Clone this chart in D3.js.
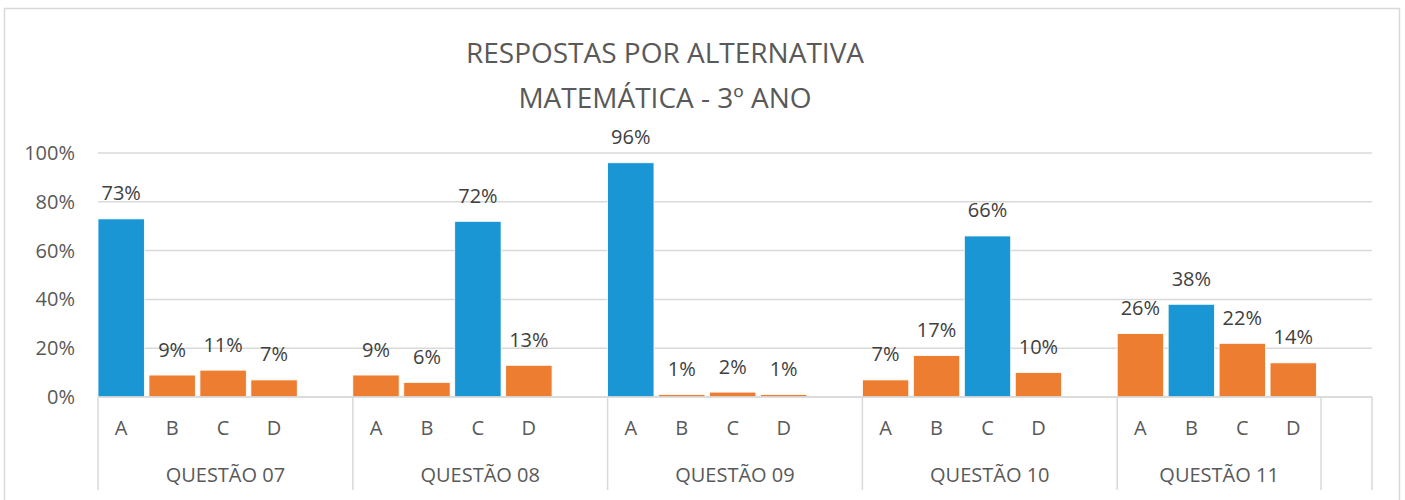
<!DOCTYPE html>
<html>
<head>
<meta charset="utf-8">
<script src="https://cdn.jsdelivr.net/npm/d3@7"></script>
<style>
  body { margin: 0; background: #fff; }
  svg { font-family: "Open Sans", sans-serif; }
</style>
</head>
<body>
<svg id="chart" width="1405" height="500"></svg>
<script>
// chart data
var questions = ["QUESTÃO 07", "QUESTÃO 08", "QUESTÃO 09", "QUESTÃO 10", "QUESTÃO 11"];
var alternatives = ["A", "B", "C", "D"];
var q07 = [0.73, 0.09, 0.11, 0.07];
var q08 = [0.09, 0.06, 0.72, 0.13];
var q09 = [0.96, 0.01, 0.02, 0.01];
var q10 = [0.07, 0.17, 0.66, 0.10];
var q11 = [0.26, 0.38, 0.22, 0.14];
var correct = ["A", "C", "A", "C", "B"];
var yTicks = [0, 0.2, 0.4, 0.6, 0.8, 1.0];
var title = ["RESPOSTAS POR ALTERNATIVA", "MATEMÁTICA - 3º ANO"];

var allValues = [q07, q08, q09, q10, q11];

// build the slot list: 4 alternatives + one empty slot per question
var slots = [];
questions.forEach(function(q, qi) {
  alternatives.forEach(function(a, ai) {
    slots.push({key: q + "|" + a, question: q, alt: a, value: allValues[qi][ai], correct: correct[qi] === a});
  });
  slots.push({key: q + "|blank", question: q, alt: "", value: null});
});
var bars = slots.filter(function(d) { return d.value !== null; });

var svg = d3.select("#chart");
var x0 = 98, x1 = 1372;
var yTop = 153, yBottom = 397;

// bars sit at the left of each slot, gap on the right
var x = d3.scaleBand()
  .domain(slots.map(function(d) { return d.key; }))
  .range([x0, x1])
  .paddingInner(0.09)
  .paddingOuter(0.045)
  .align(0);

var y = d3.scaleLinear().domain([0, 1]).range([yBottom, yTop]);
var slotW = (x1 - x0) / slots.length;

// outer frame
svg.append("rect")
  .attr("x", 4.5).attr("y", 8.5)
  .attr("width", 1395).attr("height", 500)
  .attr("fill", "#fff")
  .attr("stroke", "#d9d9d9")
  .attr("stroke-width", 1.5);

// title
svg.append("text")
  .attr("x", 665).attr("y", 63)
  .attr("text-anchor", "middle")
  .attr("font-size", 28)
  .attr("fill", "#595959")
  .selectAll("tspan")
  .data(title)
  .enter().append("tspan")
  .attr("x", 665)
  .attr("dy", function(d, i) { return i === 0 ? 0 : 45; })
  .text(function(d) { return d; });

// gridlines
svg.append("g")
  .selectAll("line")
  .data(yTicks)
  .enter().append("line")
  .attr("x1", x0).attr("x2", x1)
  .attr("y1", function(d) { return y(d); })
  .attr("y2", function(d) { return y(d); })
  .attr("stroke", "#d9d9d9")
  .attr("stroke-width", 1.5);

// y axis labels
var yAxis = svg.append("g")
  .attr("transform", "translate(" + (x0 - 10) + ",0)")
  .call(d3.axisLeft(y).tickValues(yTicks).tickFormat(d3.format(".0%")).tickSize(0).tickPadding(13));
yAxis.select(".domain").remove();
yAxis.selectAll("text")
  .attr("font-family", "Open Sans, sans-serif")
  .attr("font-size", 20)
  .attr("fill", "#595959");

// bars
svg.append("g")
  .selectAll("rect")
  .data(bars)
  .enter().append("rect")
  .attr("x", function(d) { return x(d.key); })
  .attr("y", function(d) { return y(d.value); })
  .attr("width", x.bandwidth())
  .attr("height", function(d) { return y(0) - y(d.value); })
  .attr("fill", function(d) { return d.correct ? "#1b96d4" : "#ed7d31"; })
  .attr("stroke", "#fff")
  .attr("stroke-width", 0.8);

// value labels
svg.append("g")
  .selectAll("text")
  .data(bars)
  .enter().append("text")
  .attr("x", function(d) { return x(d.key) + x.bandwidth() / 2; })
  .attr("y", function(d) { return y(d.value) - 18.5; })
  .attr("text-anchor", "middle")
  .attr("font-size", 20)
  .attr("fill", "#404040")
  .text(function(d) { return Math.round(d.value * 100) + "%"; });

// category axis line
svg.append("line")
  .attr("x1", x0).attr("x2", x1)
  .attr("y1", yBottom).attr("y2", yBottom)
  .attr("stroke", "#d9d9d9")
  .attr("stroke-width", 1.5);

// alternative labels
svg.append("g")
  .selectAll("text")
  .data(bars)
  .enter().append("text")
  .attr("x", function(d) { return x(d.key) + x.bandwidth() / 2; })
  .attr("y", 435)
  .attr("text-anchor", "middle")
  .attr("font-size", 20)
  .attr("fill", "#595959")
  .text(function(d) { return d.alt; });

// group boundaries: the last question's blank slot is drawn as its own empty group
var bounds = [];
questions.forEach(function(q, qi) {
  var start = qi * 5;
  var end = qi === questions.length - 1 ? start + 4 : start + 5;
  bounds.push({q: q, start: start, end: end});
});
var sepIdx = [0];
bounds.forEach(function(b) { sepIdx.push(b.end); });
sepIdx.push(slots.length);

svg.append("g")
  .selectAll("line")
  .data(sepIdx)
  .enter().append("line")
  .attr("x1", function(i) { return x0 + i * slotW; })
  .attr("x2", function(i) { return x0 + i * slotW; })
  .attr("y1", yBottom).attr("y2", 490)
  .attr("stroke", "#d9d9d9")
  .attr("stroke-width", 1.5);

// question labels
svg.append("g")
  .selectAll("text")
  .data(bounds)
  .enter().append("text")
  .attr("x", function(b) { return x0 + (b.start + b.end) / 2 * slotW; })
  .attr("y", 482)
  .attr("text-anchor", "middle")
  .attr("font-size", 20)
  .attr("fill", "#595959")
  .text(function(b) { return b.q; });
</script>
</body>
</html>
